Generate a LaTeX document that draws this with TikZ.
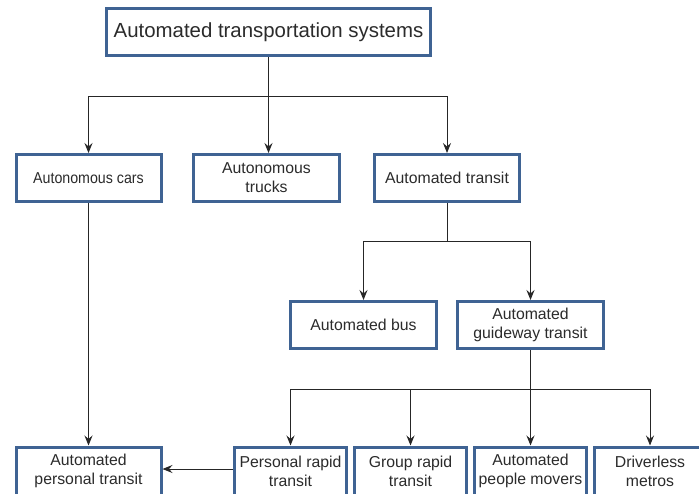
\documentclass[tikz,border=0pt]{standalone}
\usepackage{fontspec}
\setmainfont{Liberation Sans}
\usetikzlibrary{arrows.meta}
\definecolor{boxblue}{HTML}{3F6393}
\definecolor{linegray}{HTML}{262626}
\definecolor{txt}{HTML}{2B2B2B}
\tikzset{
  box/.style={draw=boxblue, line width=3pt, fill=white, inner sep=0pt, align=center,
    text=txt, font=\fontsize{15.8}{19}\selectfont, minimum height=47pt},
  topbox/.style={box, font=\fontsize{20.4}{24}\selectfont},
  conn/.style={draw=linegray, line width=0.9pt},
  arr/.style={conn, -{Stealth[length=10pt,width=8pt,inset=3.5pt]}}
}
\begin{document}
\begin{tikzpicture}[x=1pt,y=-1pt]
\useasboundingbox (0,0) rectangle (699,494);
% nodes
\node[topbox, minimum width=324pt] (top) at (268.5,32.5) {Automated transportation systems};
\node[box, minimum width=145pt] (cars) at (88.5,178) {\scalebox{0.9}[1]{Autonomous cars}};
\node[box, minimum width=146pt] (trucks) at (266.5,178) {Autonomous\\trucks};
\node[box, minimum width=145pt] (transit) at (447,178) {Automated transit};
\node[box, minimum width=146pt] (bus) at (363.5,325) {Automated bus};
\node[box, minimum width=146pt] (agt) at (530.5,325) {Automated\\guideway transit};
\node[box, minimum width=145pt, minimum height=48pt] (apt) at (88.5,471) {Automated\\personal transit};
\node[box, minimum width=112pt, minimum height=48pt] (prt) at (290.5,471) {Personal rapid\\transit};
\node[box, minimum width=112pt, minimum height=48pt] (grt) at (410.5,471) {Group rapid\\transit};
\node[box, minimum width=112pt, minimum height=48pt] (apm) at (530.5,471) {Automated\\people movers};
\node[box, minimum width=112pt, minimum height=48pt] (dm) at (650,471) {Driverless\\metros};
% branch coordinates
\coordinate (b1) at (0,96);
\coordinate (b2) at (0,241);
\coordinate (b3) at (0,389);
% level 1
\draw[conn] (top.south) -- (top.south |- b1);
\draw[arr] (top.south |- b1) -| (cars.north);
\draw[arr] (top.south |- b1) -- (top.south |- trucks.north);
\draw[arr] (top.south |- b1) -| (transit.north);
% level 2
\draw[conn] (transit.south) -- (transit.south |- b2);
\draw[arr] (transit.south |- b2) -| (bus.north);
\draw[arr] (transit.south |- b2) -| (agt.north);
% level 3
\draw[conn] (agt.south) -- (agt.south |- b3);
\draw[arr] (agt.south |- b3) -| (prt.north);
\draw[arr] (agt.south |- b3) -| (grt.north);
\draw[arr] (agt.south |- b3) -- (apm.north);
\draw[arr] (agt.south |- b3) -| (dm.north);
% others
\draw[arr] (cars.south) -- (apt.north);
\draw[arr] (prt.west |- 0,469) -- (apt.east |- 0,469);
\end{tikzpicture}
\end{document}
